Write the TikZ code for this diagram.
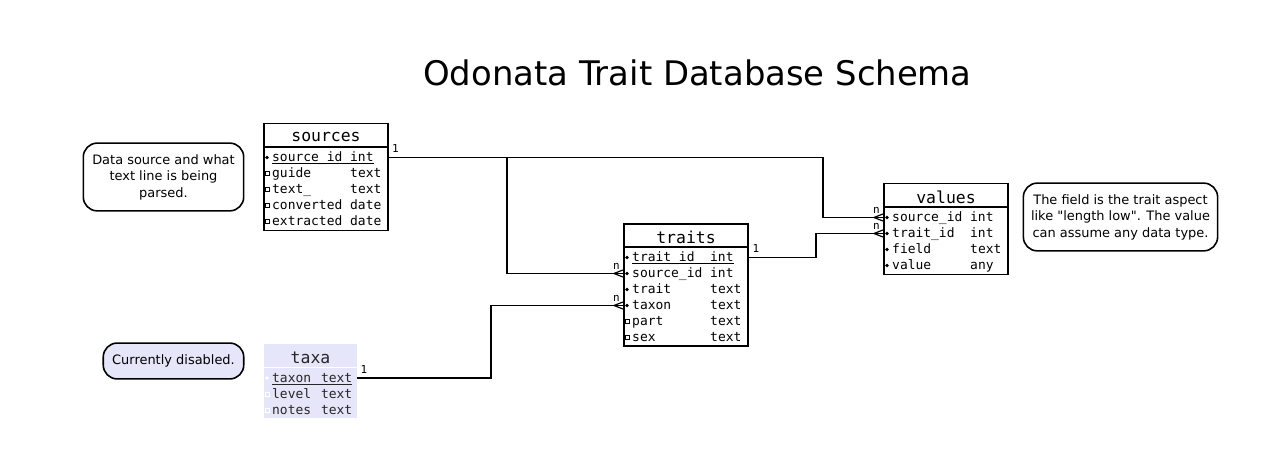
\documentclass[tikz,border=0pt]{standalone}
\usepackage{fontspec}
\setmainfont{DejaVu Sans}
\setmonofont{DejaVu Sans Mono}
\definecolor{disabled}{RGB}{230,230,250}
% one table row: name padded to a fixed column, then the type
\newcommand{\fld}[3][78.3pt]{\makebox[#1][l]{#2}#3}
% primary key row: underline set just below the baseline
\newcommand{\pkey}[1]{\underline{\smash{#1}}}

\tikzset{
  tbl/.style={draw, line width=1.6pt, inner sep=0pt},
  hdr/.style={font=\ttfamily\fontsize{16.5}{18}\selectfont, inner sep=0pt},
  row/.style={anchor=west, inner sep=0pt, text height=10.5pt, text depth=1.5pt,
    font=\ttfamily\fontsize{13}{16}\selectfont},
  link/.style={line width=1.6pt},
  card/.style={font=\ttfamily\fontsize{11}{12}\selectfont, inner sep=0pt},
  note/.style={draw, line width=1.6pt, rounded corners=14pt, align=center,
    inner sep=0pt, font=\fontsize{13}{16.5}\selectfont},
  crow/.pic={\draw[line width=1.2pt] (-9,0) -- (0,-3.5) (-9,0) -- (0,3.5);
    \node[card] (-n) at (-6.5,-7) {n};},
}

\begin{document}
\begin{tikzpicture}[x=1bp, y=-1bp]
  \useasboundingbox (0,0) rectangle (1284,466);
  % Title
  \node[font=\fontsize{34}{40}\selectfont, inner sep=0pt] (title) at (697.5,72.5) {Odonata Trait Database Schema};

  % sources table
  \node[tbl, minimum width=125pt, minimum height=107pt] (sources) at (326,177) {};
  \node[hdr] (sources-hd) at (326,137) {sources};
  \draw[line width=1.6pt] (263,147) -- (389,147);
  \node[row] (src-id) at (272,157.5) {\pkey{\fld{source\_id}{int}}};
  \node[row] (src-guide) at (272,173.5) {\fld{guide}{text}};
  \node[row] (src-text) at (272,189.5) {\fld{text\_}{text}};
  \node[row] (src-conv) at (272,205.5) {\fld{converted}{date}};
  \node[row] (src-extr) at (272,221.5) {\fld{extracted}{date}};

  % traits table
  \node[tbl, minimum width=125pt, minimum height=123pt] (traits) at (686,285) {};
  \node[hdr] (traits-hd) at (686,237) {traits};
  \draw[line width=1.6pt] (623,247) -- (749,247);
  \node[row] (tr-id) at (632,257.5) {\pkey{\fld{trait\_id}{int}}};
  \node[row] (tr-src) at (632,273.5) {\fld{source\_id}{int}};
  \node[row] (tr-trait) at (632,289.5) {\fld{trait}{text}};
  \node[row] (tr-taxon) at (632,305.5) {\fld{taxon}{text}};
  \node[row] (tr-part) at (632,321.5) {\fld{part}{text}};
  \node[row] (tr-sex) at (632,337.5) {\fld{sex}{text}};

  % values table
  \node[tbl, minimum width=125pt, minimum height=91pt] (values) at (946,229) {};
  \node[hdr] (values-hd) at (946,197) {values};
  \draw[line width=1.6pt] (883,207) -- (1009,207);
  \node[row] (val-src) at (892,217.5) {\fld{source\_id}{int}};
  \node[row] (val-tr) at (892,233.5) {\fld{trait\_id}{int}};
  \node[row] (val-field) at (892,249.5) {\fld{field}{text}};
  \node[row] (val-val) at (892,265.5) {\fld{value}{any}};

  % taxa table (disabled)
  \node[fill=disabled, minimum width=93pt, minimum height=74pt, inner sep=0pt] (taxa) at (310.5,381) {};
  \node[hdr, text=black!85] (taxa-hd) at (310.5,357.5) {taxa};
  \draw[white, line width=1.4pt] (264,367.5) -- (357,367.5);
  \node[row, text=black!85] (tx-taxon) at (272,378) {\pkey{\fld[49pt]{taxon}{text}}};
  \node[row, text=black!85] (tx-level) at (272,394) {\fld[49pt]{level}{text}};
  \node[row, text=black!85] (tx-notes) at (272,410) {\fld[49pt]{notes}{text}};

  % Key and field markers
  \foreach \r in {src-id,tr-id,tr-src,tr-trait,tr-taxon,val-src,val-tr,val-field,val-val}
    \fill ([xshift=-5pt]\r.west) circle (1.9pt);
  \foreach \r in {src-guide,src-text,src-conv,src-extr,tr-part,tr-sex}
    \draw[line width=0.7pt] ([xshift=-5pt]\r.west) ++(-1.9pt,-1.9pt) rectangle ++(3.8pt,3.8pt);
  \fill[white] ([xshift=-5pt]tx-taxon.west) circle (1.9pt);
  \foreach \r in {tx-level,tx-notes}
    \draw[white, line width=0.7pt] ([xshift=-5pt]\r.west) ++(-1.9pt,-1.9pt) rectangle ++(3.8pt,3.8pt);

  % Relations
  \coordinate (bend-sv) at (823,0);
  \coordinate (bend-st) at (507,0);
  \coordinate (bend-tv) at (816,0);
  \coordinate (bend-xt) at (491,0);
  \draw[link] (sources.east |- src-id) -- (bend-sv |- src-id) -- (bend-sv |- val-src) -- (values.west |- val-src);
  \draw[link] (bend-st |- src-id) -- (bend-st |- tr-src) -- (traits.west |- tr-src);
  \draw[link] (traits.east |- tr-id) -- (bend-tv |- tr-id) -- (bend-tv |- val-tr) -- (values.west |- val-tr);
  \draw[link] (taxa.east |- tx-taxon) -- (bend-xt |- tx-taxon) -- (bend-xt |- tr-taxon) -- (traits.west |- tr-taxon);
  % Cardinalities
  \node[card] (one-src) at (395.5,149) {1};
  \node[card] (one-tr) at (756,249) {1};
  \node[card] (one-tx) at (364,369.5) {1};
  \pic (many-vsrc) at (values.west |- val-src) {crow};
  \pic (many-vtr) at (values.west |- val-tr) {crow};
  \pic (many-tsrc) at (traits.west |- tr-src) {crow};
  \pic (many-ttx) at (traits.west |- tr-taxon) {crow};

  % Notes
  \node[note, minimum width=161pt, minimum height=68pt] (note-src) at (163.5,177) {Data source and what\\text line is being\\parsed.};
  \node[note, minimum width=195pt, minimum height=68pt] (note-val) at (1120.5,217) {The field is the trait aspect\\like \textquotedbl length low\textquotedbl. The value\\can assume any data type.};
  \node[note, fill=disabled, minimum width=141pt, minimum height=36pt] (note-tx) at (173.5,361) {Currently disabled.};
\end{tikzpicture}
\end{document}
